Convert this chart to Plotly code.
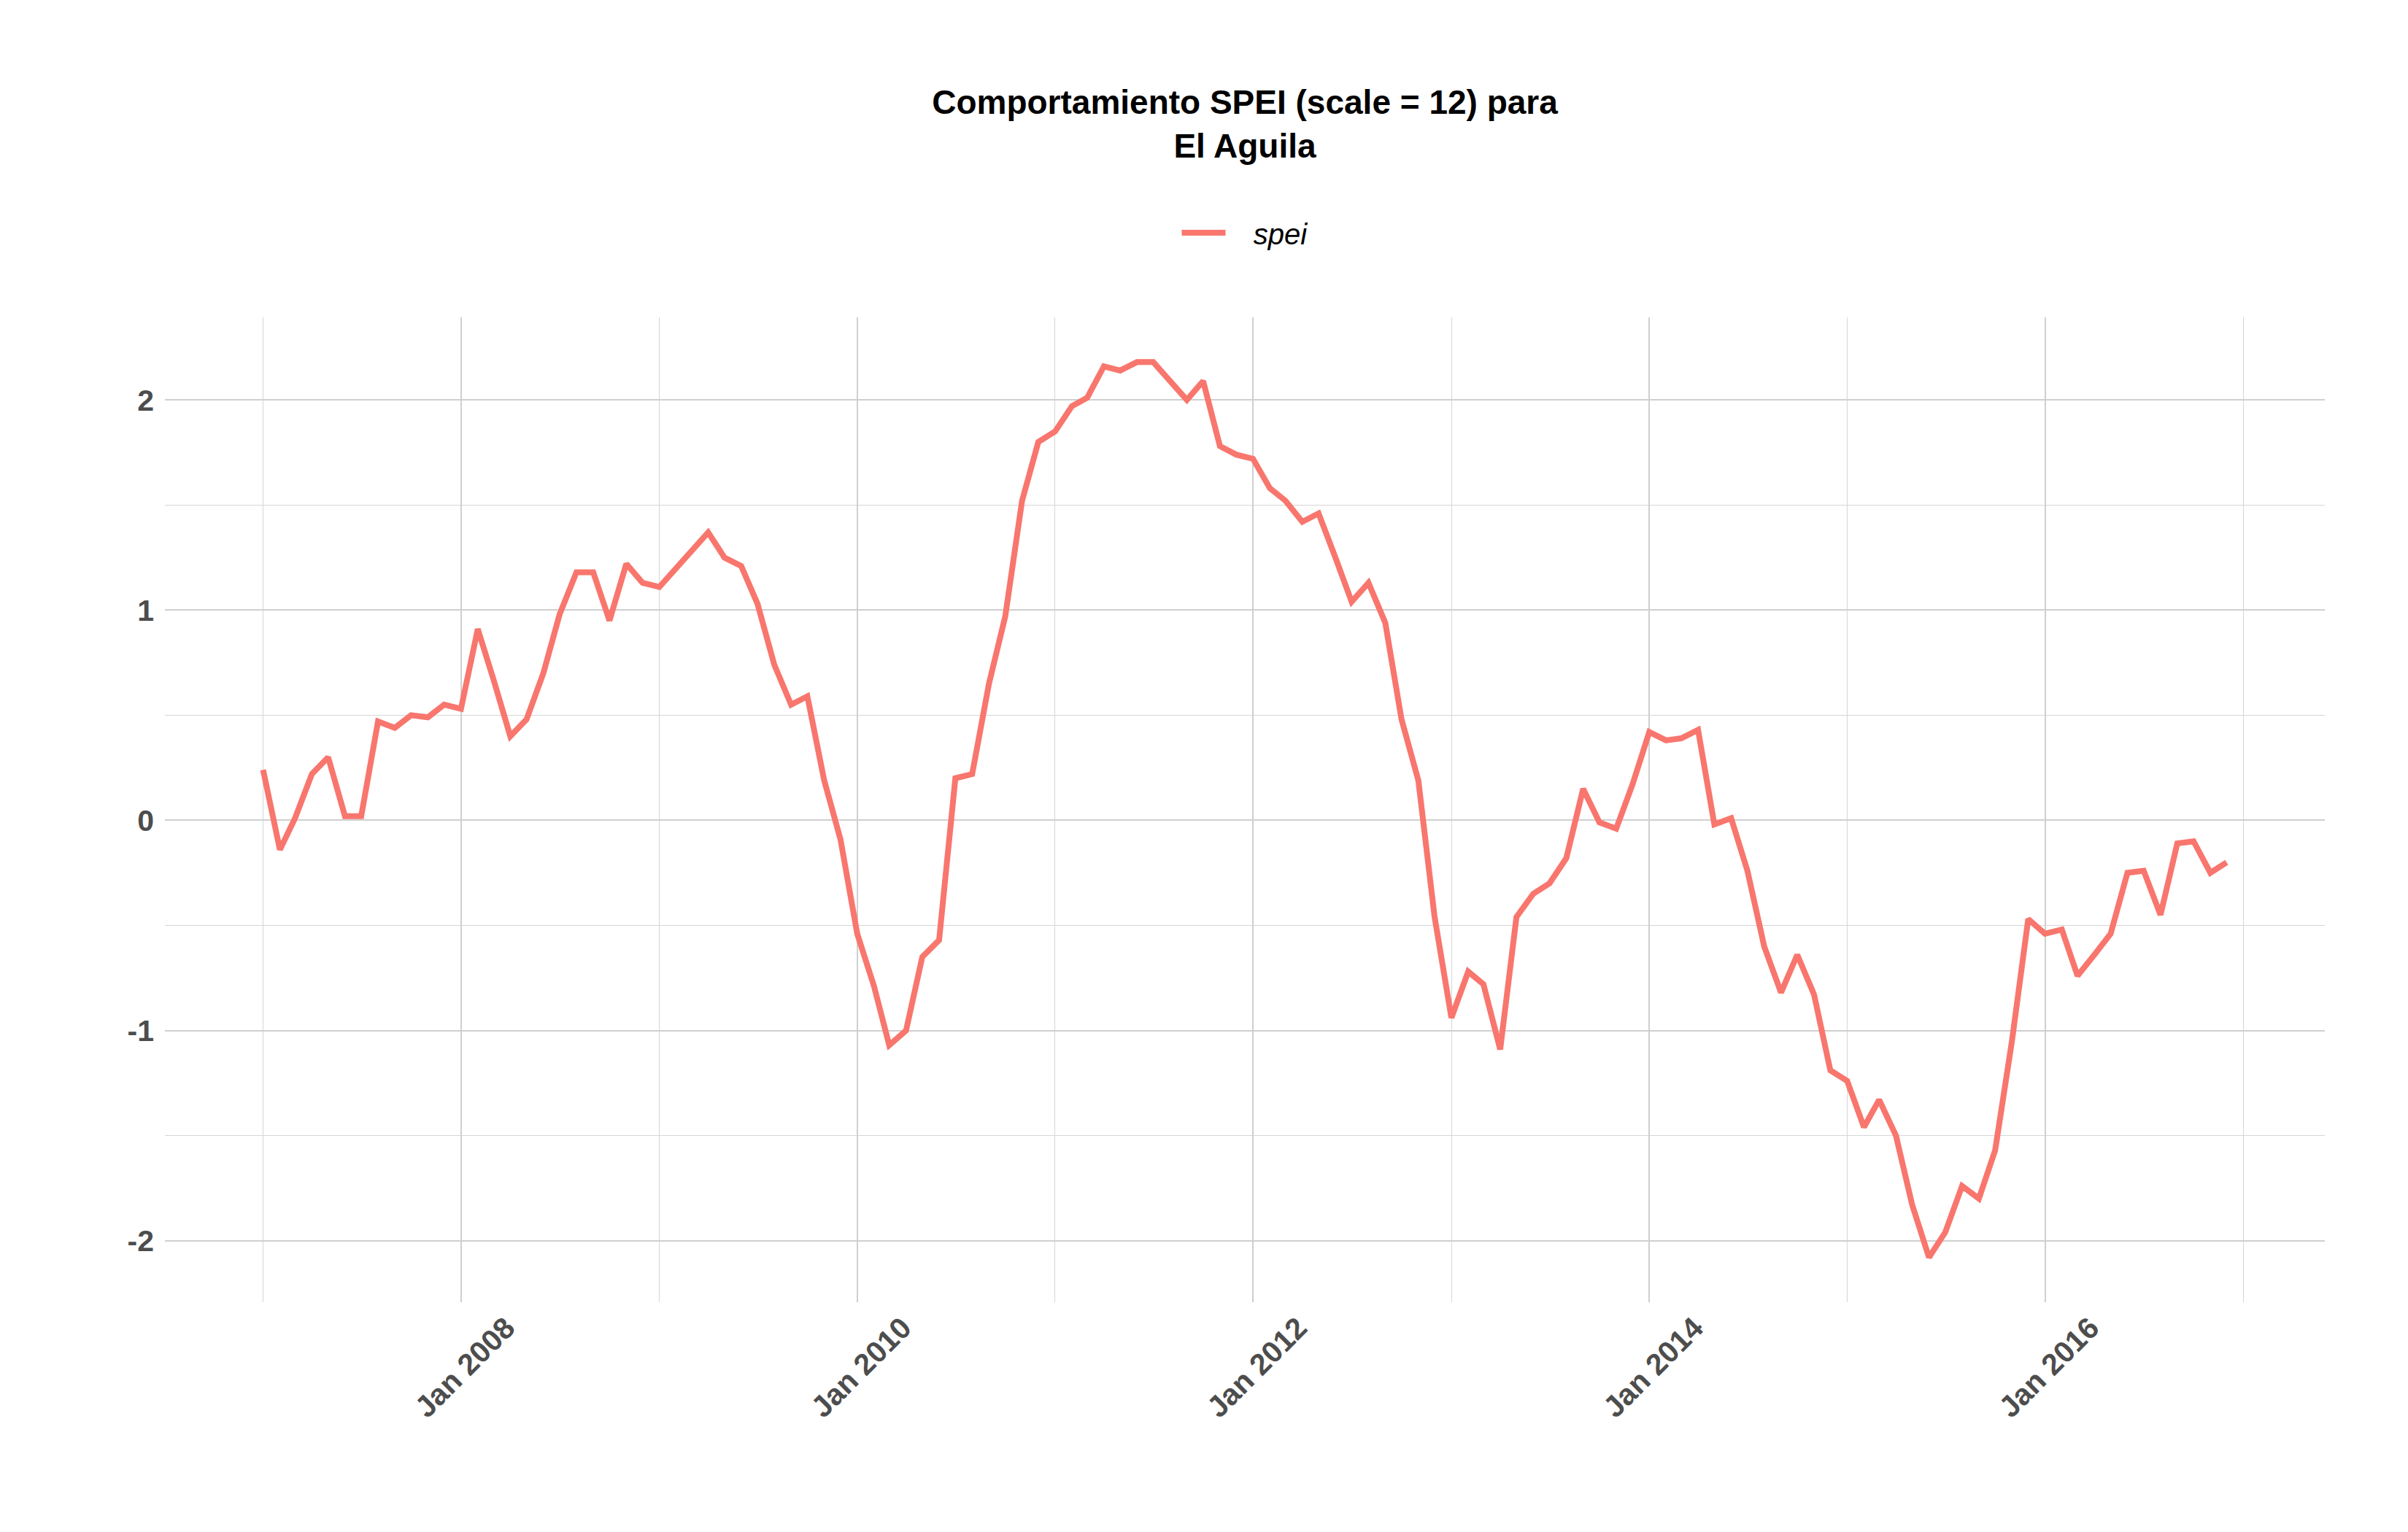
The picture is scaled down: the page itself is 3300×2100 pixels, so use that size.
import pandas as pd
import plotly.graph_objects as go

# SPEI (scale = 12), monthly, Jan 2007 - Dec 2016
months = pd.date_range('2007-01-01', '2016-12-01', freq='MS')

spei_2007 = [0.24, -0.14, 0.01, 0.22, 0.30, 0.02, 0.02, 0.47, 0.44, 0.50, 0.49, 0.55]
spei_2008 = [0.53, 0.91, 0.67, 0.40, 0.48, 0.70, 0.98, 1.18, 1.18, 0.95, 1.22, 1.13]
spei_2009 = [1.11, 1.20, 1.28, 1.37, 1.25, 1.21, 1.03, 0.74, 0.55, 0.59, 0.19, -0.09]
spei_2010 = [-0.54, -0.79, -1.07, -1.00, -0.65, -0.57, 0.20, 0.22, 0.65, 0.97, 1.52, 1.80]
spei_2011 = [1.85, 1.97, 2.01, 2.16, 2.14, 2.18, 2.18, 2.09, 2.00, 2.09, 1.78, 1.74]
spei_2012 = [1.72, 1.58, 1.52, 1.42, 1.46, 1.25, 1.04, 1.13, 0.94, 0.48, 0.19, -0.46]
spei_2013 = [-0.94, -0.72, -0.78, -1.09, -0.46, -0.35, -0.30, -0.18, 0.15, -0.01, -0.04, 0.17]
spei_2014 = [0.42, 0.38, 0.39, 0.43, -0.02, 0.01, -0.24, -0.60, -0.82, -0.64, -0.83, -1.19]
spei_2015 = [-1.24, -1.46, -1.33, -1.50, -1.83, -2.08, -1.96, -1.74, -1.80, -1.57, -1.05, -0.47]
spei_2016 = [-0.54, -0.52, -0.74, -0.64, -0.54, -0.25, -0.24, -0.45, -0.11, -0.10, -0.25, -0.20]

spei = (spei_2007 + spei_2008 + spei_2009 + spei_2010 + spei_2011
        + spei_2012 + spei_2013 + spei_2014 + spei_2015 + spei_2016)

df = pd.DataFrame({'fecha': months, 'spei': spei})

x_ticks = pd.to_datetime(['2008-01-01', '2010-01-01', '2012-01-01', '2014-01-01', '2016-01-01'])
x_tick_labels = ['Jan 2008', 'Jan 2010', 'Jan 2012', 'Jan 2014', 'Jan 2016']
x_minor = pd.to_datetime(['2007-01-01', '2009-01-01', '2011-01-01',
                          '2013-01-01', '2015-01-01', '2017-01-01'])
y_ticks = [-2, -1, 0, 1, 2]
y_minor = [-1.5, -0.5, 0.5, 1.5]

# ggplot-style 5% expansion on both axes
span = df['fecha'].max() - df['fecha'].min()
x_range = [df['fecha'].min() - span * 0.05, df['fecha'].max() + span * 0.05]
y_pad = (max(spei) - min(spei)) * 0.05
y_range = [min(spei) - y_pad, max(spei) + y_pad]

base_font = 'Liberation Sans, Arial, sans-serif'

fig = go.Figure()
fig.add_trace(go.Scatter(x=df['fecha'], y=df['spei'], mode='lines',
                         name='   <i>spei</i>',
                         line=dict(color='#F8766D', width=8)))

fig.update_layout(
    width=3300, height=2100,
    paper_bgcolor='white', plot_bgcolor='white',
    margin=dict(l=218, r=122, t=427, b=323),
    font=dict(family=base_font, color='#4D4D4D'),
    title=dict(text='<b>Comportamiento SPEI (scale = 12) para<br>El Aguila</b>',
               x=0.5, xref='paper', xanchor='center',
               y=1 - 148 / 2100, yref='container', yanchor='middle',
               font=dict(size=46, color='black')),
    showlegend=True,
    legend=dict(orientation='h', x=0.5, xanchor='center', y=1.086, yanchor='middle',
                font=dict(size=40, color='black'), itemwidth=60),
)

fig.update_xaxes(
    range=x_range, tickmode='array', tickvals=x_ticks,
    ticktext=['<b>%s</b>' % t for t in x_tick_labels],
    tickangle=-45, tickfont=dict(size=41, color='#4D4D4D', family=base_font),
    showgrid=True, gridcolor='#CFCFCF', gridwidth=1.6,
    minor=dict(tickmode='array', tickvals=x_minor,
               showgrid=True, gridcolor='#D6D6D6', gridwidth=1),
    zeroline=False, showline=False, ticks='',
    ticklabelstandoff=2, ticklabelshift=62,
)
fig.update_yaxes(
    range=y_range, tickmode='array', tickvals=y_ticks,
    ticktext=['<b>%d</b>' % v for v in y_ticks],
    tickfont=dict(size=41, color='#4D4D4D', family=base_font),
    showgrid=True, gridcolor='#CFCFCF', gridwidth=1.6,
    minor=dict(tickmode='array', tickvals=y_minor,
               showgrid=True, gridcolor='#D6D6D6', gridwidth=1),
    zeroline=False, showline=False, ticks='', ticklabelstandoff=14,
)

fig.write_html('out.html')
